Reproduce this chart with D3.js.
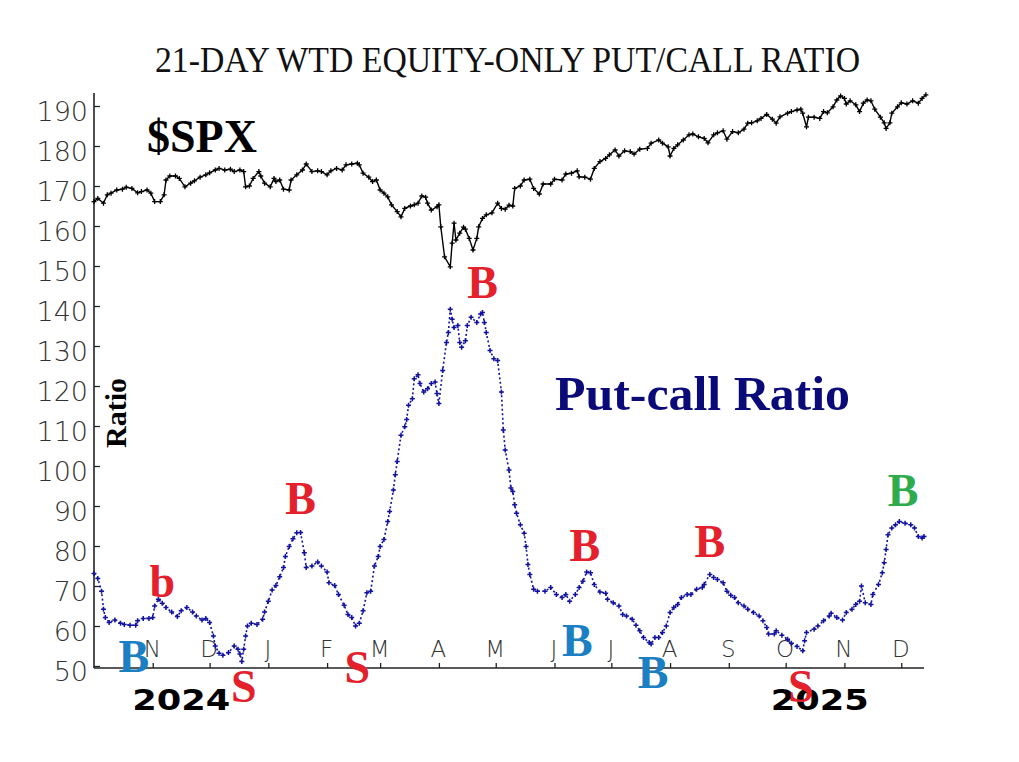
<!DOCTYPE html>
<html><head><meta charset="utf-8">
<script src="https://cdn.jsdelivr.net/npm/d3@7"></script>
<style>body{margin:0;background:#fff}svg{display:block}</style>
</head><body>
<svg id="chart" width="1019" height="762"></svg>
<script>
// ---------- DATA ----------
const titleText = "21-DAY WTD EQUITY-ONLY PUT/CALL RATIO";
const startDate = new Date(2024, 9, 1);   // day 0
const endDate = new Date(2025, 11, 13);
const yTicks = [50, 60, 70, 80, 90, 100, 110, 120, 130, 140, 150, 160, 170, 180, 190];
const monthLabels = ["N","D","J","F","M","A","M","J","J","A","S","O","N","D"];
const yearLabels = ["2024", "2025"];
const yearDays = [46, 383];   // calendar days since 2024-10-01 (label centre)

// $SPX (scaled), calendar days since 2024-10-01
const spxDays = [0,2,5,7,9,12,15,17,20,23,25,28,30,32,35,37,38,40,43,45,48,51,53,56,59,61,64,66,69,72,74,77,79,80,82,84,87,88,90,93,95,96,98,100,103,104,107,110,112,115,118,120,123,125,128,131,133,136,139,140,142,145,147,149,151,153,155,157,160,162,164,167,169,171,173,175,176,178,181,182,183,185,188,189,190,191,193,195,196,198,200,202,203,205,207,210,213,215,217,219,221,222,225,227,230,232,235,237,241,243,247,249,252,255,256,259,262,264,267,270,272,275,277,280,283,285,288,292,294,298,300,303,304,306,308,311,314,316,319,322,324,327,329,332,334,337,340,343,345,347,350,352,355,358,360,362,366,368,371,373,374,376,377,380,383,385,387,390,392,394,396,397,399,402,404,406,408,410,412,415,417,418,420,421,424,426,429,432,435,437,439];
const spxValues = [166.1,166.9,165.7,167.8,168.2,169,169.2,169.7,169.4,168.3,168.6,169,168.2,166.1,166.1,167.8,171.5,172.5,172.5,171.9,169.8,170.7,171.3,172.2,172.8,173.3,174,174.4,174,174.2,173.6,174,173.6,169.8,170,171.9,173.6,172.5,170.7,169.8,171.9,171.1,171.5,169.2,169,171.5,172.8,174,175.5,173.6,173.8,173.6,172.8,173.8,174.4,174,175.3,175.5,175.7,175.3,173.2,172.2,171.1,171.5,169,168.2,167.3,165.3,163.6,162.3,164.4,165,165.3,165.7,167.5,167.2,165.7,164,164.8,165.3,159.8,152.3,149.8,155.7,160.7,156.5,158.2,159.7,159.2,156.9,154,156.9,159.8,161.9,162.8,163.3,165.7,164.4,164.2,165.2,165,169.4,170,171.5,171.7,169.4,168,170.5,170.5,171.7,171.5,173,173.2,173.8,172.3,172.2,171.7,174.4,176.1,176.9,177.8,179,177.5,178.8,178.6,178,179.2,179.4,180.7,181.5,180.7,179.8,177.5,179.4,180.3,181.5,182.8,183,182.3,181.9,180.8,182.8,183.3,183.8,181.7,183.6,183.3,184.2,185.7,185.8,186.3,186.9,187.9,186.7,185.7,187.3,188.2,188.6,189,189.2,188.2,184.8,187.2,187.2,186.9,188.6,188.3,189.8,191.5,192.5,191.9,190.5,191.3,190.3,188.6,190.7,191.5,191.3,189.2,187.2,185.8,184.4,185.8,188.2,189.8,190.8,190.5,191.3,190.7,191.9,192.8];

// Put-call ratio (x100), calendar days since 2024-10-01
const pcDays = [0,2,4,5,6,8,11,14,16,19,22,23,26,29,31,32,34,36,38,41,44,46,49,52,54,57,59,61,63,64,66,68,71,74,76,77,78,79,80,81,83,86,89,90,92,94,96,98,100,101,103,105,107,109,111,112,115,118,120,123,124,127,129,132,134,136,138,140,142,144,146,148,150,151,153,155,156,158,159,160,162,164,165,166,168,169,171,172,174,176,178,180,181,182,184,186,187,188,189,190,192,193,194,196,197,199,202,204,205,206,207,209,211,213,215,216,217,219,220,221,222,223,225,227,228,229,230,232,234,238,241,244,247,249,251,254,256,258,260,262,264,267,270,271,274,277,279,281,284,286,288,290,293,294,296,298,300,302,304,306,308,310,313,315,318,321,322,325,327,329,332,334,336,338,340,343,345,348,351,353,355,356,359,360,363,366,368,371,374,375,376,380,382,385,388,389,392,395,397,400,402,404,405,407,410,411,414,416,417,418,419,421,423,425,428,431,433,435,437,438];
const pcValues = [73.1,71.9,68.7,64.2,62.1,60.9,61.5,60.7,60.4,60.2,60.2,61.3,61.9,61.9,62.1,65,66.7,65.7,64.6,63.5,62.4,63.8,64.6,63.5,62.5,61.5,61.9,60.9,57.5,55,53.2,52.7,53.4,55,54.2,53,51.1,54.2,57.5,60,60.7,60.4,61.7,63.5,66.2,69,70.1,72.3,74.6,77.4,79.9,81.8,83.3,83.4,78.3,74.6,75,76,75,73.5,70.8,70.1,67.9,65.2,62.9,62.1,60,60.7,63.8,68.3,68.7,75,77.4,79.9,81.6,86.1,88.6,94,97.8,101.1,107.7,109.8,111.6,115.2,116.8,121.8,122.8,120.6,118.5,119.3,120.6,121,118.1,115.6,123.9,130.9,133.4,139.2,136.7,134.6,135.1,130.9,129.7,131.3,135.1,137.2,135.9,138,138.4,135.9,133.4,128.9,126.8,126.4,118.5,109,104,99,94.5,93.6,90.3,88.2,85.3,83.2,79.9,75.4,72.9,69.2,68.7,68.7,69.6,67.9,67.1,67.9,66.2,67.9,69.6,71.2,73.5,73.3,70.4,68.5,68.2,66.7,65.8,65,62.9,62.5,61.7,60.2,58.8,57.1,55.9,55.5,57.1,57.1,58.4,60,63.4,64.6,65.4,67.1,67.9,67.9,69.2,69.6,70.4,72.9,72.1,71.6,70.8,68.7,67.7,67.1,65.8,65,64.2,63.4,62.5,61.3,59.6,58,58,58.8,57.7,56.7,55.7,54.9,53.8,56.3,58.4,59.2,60,61.3,62.5,63.2,62.1,61.5,63.4,64.2,65.4,66.2,70,65.8,65.4,67.9,70.4,73.3,75.8,79.1,82.8,84.5,85.3,86.1,85.7,85.3,84.5,82.4,82,82.4];

// Buy / sell signal letters: text, group, anchor day, anchor level (baseline)
const signalText  = ["B","b","S","B","S","B","B","B","B","B","S","B"];
const signalGroup = ["blue","red","red","red","red","red","blue","red","blue","red","red","green"];
const signalDays  = [21,36,79,109,139,205,255,259,295,325,373,427];
const signalLevel = [48.5,67.25,41,88,45.75,142,52.5,76.25,44.5,77.25,41,90];

// ---------- CHART ----------
const svg = d3.select("#chart");
const W = 1019, H = 762;
svg.append("rect").attr("width", W).attr("height", H).attr("fill", "#fff");

const plotLeft = 94, plotRight = 924, plotBottom = 668, plotTop = 93;
const x = d3.scaleTime().domain([startDate, endDate]).range([plotLeft, plotRight]);
const y = d3.scaleLinear().domain([50, 190]).range([666, 106]);
const dayToDate = d => d3.timeDay.offset(startDate, d);

const axisFont = "'DejaVu Sans', sans-serif";
const serif = "'Liberation Serif', 'Times New Roman', serif";
const groupColor = {red: "#e3202b", blue: "#1b7fc3", green: "#2eac4c"};

// Title
svg.append("text")
  .attr("x", 507.5).attr("y", 72)
  .attr("text-anchor", "middle")
  .attr("font-family", serif).attr("font-size", 36)
  .attr("textLength", 705).attr("lengthAdjust", "spacingAndGlyphs")
  .attr("fill", "#111")
  .text(titleText);

// Y axis
const yAxis = d3.axisLeft(y).tickValues(yTicks).tickSize(-6).tickPadding(6).tickFormat(d3.format("d"));
const gy = svg.append("g").attr("transform", `translate(${plotLeft},0)`).call(yAxis);
gy.select(".domain").remove();
gy.selectAll(".tick line").attr("stroke", "#222").attr("stroke-width", 1.3);
gy.selectAll(".tick text")
  .attr("font-family", axisFont).attr("font-size", 27).attr("font-weight", 200)
  .attr("fill", "#333").attr("dy", "0.52em");

// X axis (month ticks inside)
const monthDates = d3.timeMonth.range(new Date(2024, 10, 1), new Date(2025, 11, 2));
const xAxis = d3.axisBottom(x).tickValues(monthDates).tickSize(-5)
  .tickFormat((d, i) => monthLabels[i]);
const gx = svg.append("g").attr("transform", `translate(0,${plotBottom})`).call(xAxis);
gx.select(".domain").remove();
gx.selectAll(".tick line").attr("stroke", "#222").attr("stroke-width", 1.3);
gx.selectAll(".tick text")
  .attr("font-family", axisFont).attr("font-size", 23).attr("font-weight", 200)
  .attr("fill", "#333").attr("y", -11).attr("dy", 0).attr("dx", -1);

// axis lines
svg.append("line").attr("x1", plotLeft).attr("x2", plotLeft).attr("y1", plotTop).attr("y2", plotBottom)
  .attr("stroke", "#222").attr("stroke-width", 1.6);
svg.append("line").attr("x1", plotLeft).attr("x2", plotRight).attr("y1", plotBottom).attr("y2", plotBottom)
  .attr("stroke", "#222").attr("stroke-width", 1.6);

// Year labels
svg.selectAll("text.year").data(yearLabels).join("text")
  .attr("class", "year")
  .attr("x", (d, i) => x(dayToDate(yearDays[i])))
  .attr("y", 710)
  .attr("text-anchor", "middle")
  .attr("font-family", axisFont).attr("font-weight", "bold").attr("font-size", 29)
  .attr("textLength", 98).attr("lengthAdjust", "spacingAndGlyphs")
  .attr("fill", "#000")
  .text(d => d);

// Ratio axis title
svg.append("text")
  .attr("transform", "translate(126,413) rotate(-90)")
  .attr("text-anchor", "middle")
  .attr("font-family", serif).attr("font-weight", "bold").attr("font-size", 30)
  .attr("fill", "#000").text("Ratio");

// Series
const spxData = spxDays.map((d, i) => ({date: dayToDate(d), v: spxValues[i]}));
const pcData = pcDays.map((d, i) => ({date: dayToDate(d), v: pcValues[i]}));
const line = d3.line().x(d => x(d.date)).y(d => y(d.v));
const plus = "M-2.5,0H2.5M0,-2.5V2.5";

svg.append("path").datum(spxData).attr("d", line)
  .attr("fill", "none").attr("stroke", "#000").attr("stroke-width", 1.4);
svg.append("g").selectAll("path").data(spxData).join("path")
  .attr("transform", d => `translate(${x(d.date)},${y(d.v)})`)
  .attr("d", plus).attr("stroke", "#000").attr("stroke-width", 1.3);

const pcColor = "#1212a0";
svg.append("path").datum(pcData).attr("d", line)
  .attr("fill", "none").attr("stroke", pcColor).attr("stroke-width", 1.6)
  .attr("stroke-dasharray", "2,2.5");
svg.append("g").selectAll("path").data(pcData).join("path")
  .attr("transform", d => `translate(${x(d.date)},${y(d.v)})`)
  .attr("d", plus).attr("stroke", pcColor).attr("stroke-width", 1.5);

// Series labels
svg.append("text").attr("x", 147).attr("y", 152)
  .attr("font-family", serif).attr("font-weight", "bold").attr("font-size", 46)
  .attr("fill", "#000").text("$SPX");
svg.append("text").attr("x", 555).attr("y", 410)
  .attr("font-family", serif).attr("font-weight", "bold").attr("font-size", 49)
  .attr("textLength", 295).attr("lengthAdjust", "spacingAndGlyphs")
  .attr("fill", "#0a0a78").text("Put-call Ratio");

// Signal letters
svg.append("g").selectAll("text").data(signalText).join("text")
  .attr("x", (d, i) => x(dayToDate(signalDays[i])))
  .attr("y", (d, i) => y(signalLevel[i]))
  .attr("text-anchor", "middle")
  .attr("font-family", serif).attr("font-weight", "bold").attr("font-size", 46)
  .attr("fill", (d, i) => groupColor[signalGroup[i]])
  .text(d => d);
</script>
</body></html>
